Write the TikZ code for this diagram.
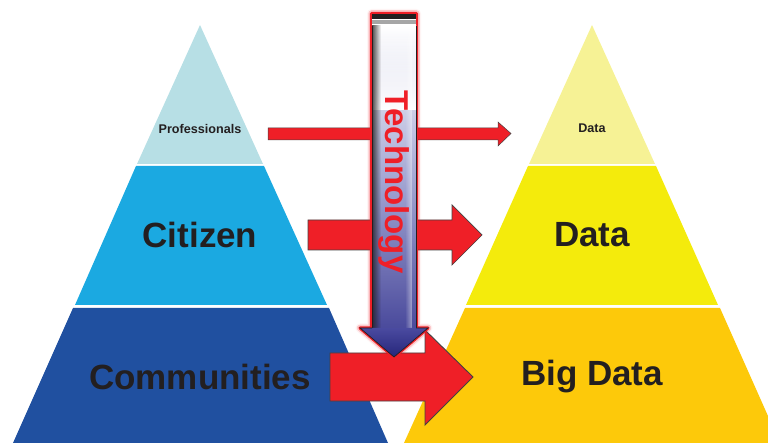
\documentclass[tikz,border=0pt]{standalone}
\usepackage{fontspec}
\setmainfont{Liberation Sans}
\usetikzlibrary{fadings}
\definecolor{ink}{HTML}{231F20}
\definecolor{redA}{HTML}{EF1F27}
\definecolor{lblue}{HTML}{B7DFE5}
\definecolor{mblue}{HTML}{1BA9E1}
\definecolor{dblue}{HTML}{2050A0}
\definecolor{lyel}{HTML}{F6F295}
\definecolor{myel}{HTML}{F4EB0C}
\definecolor{dyel}{HTML}{FDC90A}
\definecolor{shaftmid}{HTML}{A5A8D4}
\definecolor{shaftlow}{HTML}{4A4A9C}
\definecolor{headtop}{HTML}{4A4AA0}
\definecolor{headlow}{HTML}{26267A}
\tikzset{
 x=1pt,y=-1pt,
 label/.style={text=ink,inner sep=0pt},
 bigarrow/.style={fill=redA,draw=ink!85,line width=.7pt,line join=miter},
 glow/.style={draw=redA,line join=round},
}
\begin{document}
\begin{tikzpicture}
\useasboundingbox (0,0) rectangle (768,443);
\clip (0,0) rectangle (768,443);
% left pyramid
\fill[lblue] (200,25) -- (263,164) -- (137,164) -- cycle;
\fill[mblue] (136,166) -- (264,166) -- (327,305) -- (75,305) -- cycle;
\fill[dblue] (73,308) -- (329,308) -- (388,443) -- (13,443) -- cycle;
% right pyramid
\fill[lyel] (592,25) -- (655,164) -- (529,164) -- cycle;
\fill[myel] (528,166) -- (656,166) -- (718,305) -- (466,305) -- cycle;
\fill[dyel] (465,308) -- (720,308) -- (780,443) -- (404,443) -- cycle;
% red arrows
\draw[bigarrow,line width=.5pt] (268,128) -- (498,128) -- (498,122) -- (511,133.5) -- (498,146) -- (498,140) -- (268,140) -- cycle;
\draw[bigarrow] (308,220) -- (452,220) -- (452,205) -- (482,235) -- (452,265) -- (452,250) -- (308,250) -- cycle;
\draw[bigarrow,line width=.9pt] (330,353) -- (425,353) -- (425,330) -- (473,377) -- (425,425) -- (425,401) -- (330,401) -- cycle;
% technology arrow: glow
\def\techpath{(371.5,13.5) -- (416.5,13.5) -- (416.5,328) -- (428,328) -- (394,357) -- (360,328) -- (371.5,328) -- cycle}
\draw[glow,line width=9pt,opacity=.05] \techpath;
\draw[glow,line width=6.5pt,opacity=.2] \techpath;
\draw[glow,line width=3.2pt] \techpath;
\fill[white] (372,14) rectangle (416,328);
\fill[ink] (372,14) rectangle (416,19);
\fill[gray!70] (372,20) rectangle (416,24);
% shaft gradient
\shade[top color=white,bottom color=shaftlow,middle color=shaftmid] (372,26) rectangle (416,328);
\fill[white,path fading=north] (372,26) rectangle (416,110);
\shade[left color=ink,right color=ink,path fading=east,opacity=.8] (372,26) rectangle (381,328);
\fill[white,path fading=west,opacity=.45] (405,26) rectangle (412,328);
\draw[ink,line width=.8pt] (372,26) -- (372,328);
\draw[ink,line width=.5pt] (416,26) -- (416,328);
\shade[top color=headtop,bottom color=headlow] (360,328) -- (428,328) -- (394,357) -- cycle;
\draw[ink,line width=.7pt] (372,328) -- (360,328) -- (394,357) -- (428,328) -- (416,328);
% labels
\node[label,font=\bfseries\fontsize{12.6}{14}\selectfont] (prof) at (200,128.5) {Professionals};
\node[label,font=\bfseries\fontsize{35}{40}\selectfont] (cit) at (200,235) {Citizen};
\node[label,font=\bfseries\fontsize{35}{40}\selectfont] (comm) at (200,377) {Communities};
\node[label,font=\bfseries\fontsize{12.6}{14}\selectfont] (d1) at (592,128.5) {Data};
\node[label,font=\bfseries\fontsize{35}{40}\selectfont] (d2) at (592,235) {Data};
\node[label,font=\bfseries\fontsize{35}{40}\selectfont] (d3) at (592,377) {Big Data};
\node[inner sep=0pt,font=\bfseries\fontsize{33}{38}\selectfont,text=redA,rotate=-90] (tech) at (394,182) {Technology};
\end{tikzpicture}
\end{document}
